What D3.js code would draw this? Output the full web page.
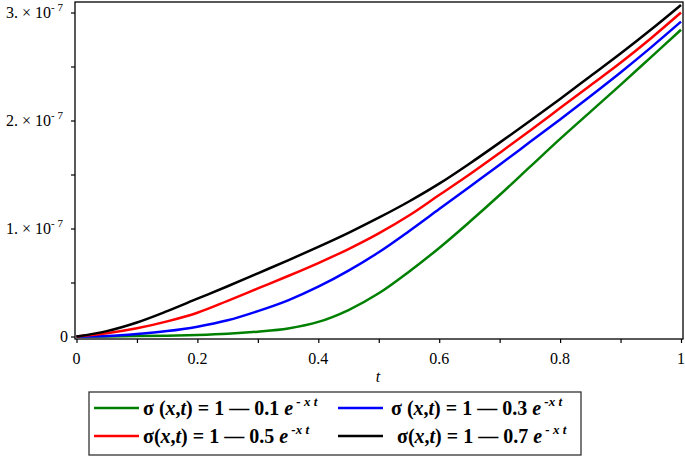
<!DOCTYPE html>
<html><head><meta charset="utf-8">
<script src="https://cdn.jsdelivr.net/npm/d3@7"></script>
<style>body{margin:0;background:#fff}svg{display:block}</style>
</head><body>
<svg id="c" width="685" height="456"></svg>
<script>
// t values
const tValues = [0,0.05,0.1,0.15,0.2,0.25,0.3,0.35,0.4,0.45,0.5,0.55,0.6,0.65,0.7,0.75,0.8,0.85,0.9,0.95,1.0];
// series values in units of 1e-7
const green01 = [0,0.001,0.004,0.008,0.014,0.025,0.045,0.075,0.135,0.245,0.40,0.60,0.82,1.06,1.31,1.57,1.83,2.08,2.33,2.585,2.84];
const blue03  = [0,0.005,0.023,0.05,0.091,0.15,0.235,0.335,0.461,0.61,0.78,0.975,1.18,1.385,1.59,1.80,2.01,2.225,2.445,2.675,2.915];
const red05   = [0,0.03,0.076,0.14,0.22,0.33,0.445,0.56,0.68,0.81,0.955,1.12,1.31,1.50,1.70,1.905,2.115,2.325,2.535,2.76,3.0];
const black07 = [0,0.05,0.13,0.235,0.35,0.465,0.585,0.705,0.83,0.96,1.10,1.25,1.415,1.60,1.795,1.995,2.20,2.41,2.62,2.84,3.07];
const xTickValues = [0,0.2,0.4,0.6,0.8,1];
const xTickLabels = ["0","0.2","0.4","0.6","0.8","1"];
const yTickValues = [0,1,2,3];
const yTickLabels = ["0","1.","2.","3."];
const yExponent = "-7";
const coeffs = ["0.1","0.3","0.5","0.7"];

const svg = d3.select("#c");
const FONT = "'Liberation Serif','Times New Roman',serif";
const x = d3.scaleLinear().domain([0,1]).range([76.5,681]);
const y = d3.scaleLinear().domain([0,3]).range([336.5,12.5]);

// frame
svg.append("rect").attr("x",75).attr("y",2).attr("width",608).attr("height",337)
  .attr("fill","none").attr("stroke","#000").attr("stroke-width",1.3);

// x axis
const xa = svg.append("g").attr("transform","translate(0,339)");
xa.call(d3.axisBottom(x).tickValues(d3.range(0,1.0001,0.1)).tickSize(4).tickFormat(""));
xa.select(".domain").remove();
xa.selectAll("line").attr("stroke","#000").attr("stroke-width",1.2);
svg.append("g").selectAll("text").data(xTickValues).enter().append("text")
  .attr("x",d=>x(d)).attr("y",364).attr("text-anchor","middle").attr("fill","#000")
  .attr("font-family",FONT).attr("font-size",16).text((d,i)=>xTickLabels[i]);

// y axis
const ya = svg.append("g").attr("transform","translate(75,0)");
ya.call(d3.axisLeft(y).tickValues(d3.range(0,3.0001,0.5)).tickSize(4).tickFormat(""));
ya.select(".domain").remove();
ya.selectAll("line").attr("stroke","#000").attr("stroke-width",1.2);
yTickValues.forEach((v,i)=>{
  const t = svg.append("text").attr("x",63).attr("y",y(v)+5).attr("text-anchor","end")
    .attr("font-family",FONT).attr("font-size",16).attr("fill","#000");
  if (v===0) { t.attr("x",68).text(yTickLabels[i]); return; }
  t.append("tspan").text(yTickLabels[i]+" \u00d7 10");
  t.append("tspan").attr("font-size",11).attr("dy",-7).text(yExponent.replace("-","- "));
});

// axis title
svg.append("text").attr("x",378).attr("y",382).attr("text-anchor","middle")
  .attr("font-family",FONT).attr("font-style","italic").attr("font-size",16).text("t");

// curves
const series = [
  {vals:green01,color:"#008000"},
  {vals:blue03,color:"#0000ff"},
  {vals:red05,color:"#ff0000"},
  {vals:black07,color:"#000000"}
];
const line = d3.line().x((d,i)=>x(tValues[i])).y(d=>y(d)).curve(d3.curveCatmullRom.alpha(0.5));
svg.append("g").selectAll("path").data(series).enter().append("path")
  .attr("d",d=>line(d.vals)).attr("fill","none").attr("stroke",d=>d.color)
  .attr("stroke-width",2.5).attr("stroke-linejoin","round");

// legend
svg.append("rect").attr("x",89).attr("y",392).attr("width",492).attr("height",63)
  .attr("fill","#fff").attr("stroke","#333").attr("stroke-width",1.3);
const legendItems = [
  {c:coeffs[0],color:"#008000",lx:94,ty:408,tx:143,space:true,sup:"- x t"},
  {c:coeffs[1],color:"#0000ff",lx:338,ty:408,tx:391,space:true,sup:"-x t"},
  {c:coeffs[2],color:"#ff0000",lx:94,ty:436,tx:143,space:false,sup:"-x t"},
  {c:coeffs[3],color:"#000000",lx:338,ty:436,tx:397,space:false,sup:"- x t"}
];
legendItems.forEach(it=>{
  svg.append("line").attr("x1",it.lx).attr("x2",it.lx+45).attr("y1",it.ty).attr("y2",it.ty)
    .attr("stroke",it.color).attr("stroke-width",2.5);
  const t = svg.append("text").attr("x",it.tx).attr("y",it.ty+7)
    .attr("font-family",FONT).attr("font-size",20).attr("font-weight","bold");
  t.append("tspan").text("\u03c3"+(it.space?" (":"("));
  t.append("tspan").attr("font-style","italic").text("x");
  t.append("tspan").text(",");
  t.append("tspan").attr("font-style","italic").text("t");
  t.append("tspan").text(") = 1 \u2014 "+it.c+" ");
  t.append("tspan").attr("font-style","italic").text("e");
  t.append("tspan").attr("font-size",13).attr("dy",-9).attr("font-style","italic").text(" "+it.sup);
});
</script>
</body></html>
